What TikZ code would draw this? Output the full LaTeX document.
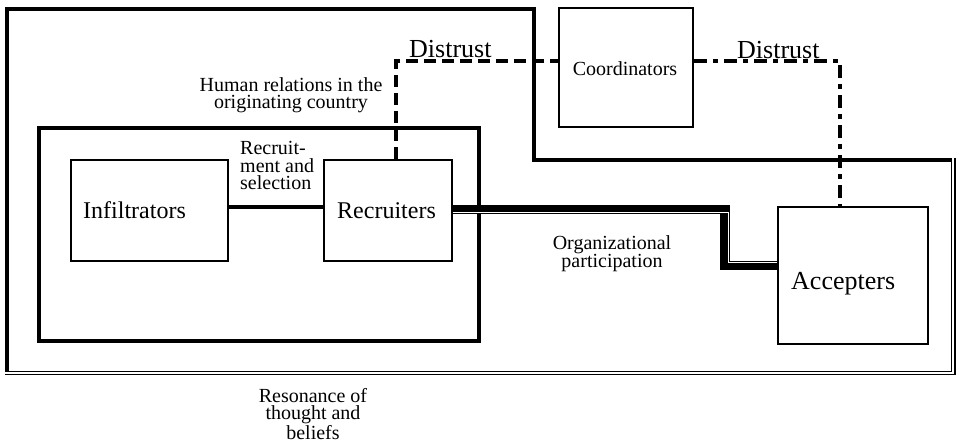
\documentclass[tikz,border=0pt]{standalone}
\usepackage{fontspec}
\setmainfont{Liberation Serif}
\begin{document}
\begin{tikzpicture}[x=1pt,y=-1pt,
  frame/.style={line width=4pt, line join=miter},
  dframe/.style={double, line width=1.3pt, double distance=1.8pt, line join=miter},
  box/.style={draw, line width=2pt, inner sep=0pt},
  lab20/.style={font=\fontsize{20}{17.5}\selectfont, inner sep=0pt},
  lab24/.style={font=\fontsize{24}{28}\selectfont, inner sep=0pt},
  lab26/.style={font=\fontsize{26}{30}\selectfont, inner sep=0pt},
  link/.style={line width=3.5pt},
  distA/.style={line width=3.5pt, dash pattern=on 12pt off 6pt},
  distB/.style={line width=3.5pt, dash pattern=on 13pt off 6pt on 5pt off 6pt},
  orgline/.style={line width=9.5pt, line join=miter},
  orgwhite/.style={draw=white, line width=1pt, line join=miter}]
\useasboundingbox (0,0) rectangle (958,443);
% outer frame
\draw[frame] (7,371) -- (7,9.5) -- (534,9.5) -- (534,160) -- (953.3,160);
\draw[dframe] (5,372.7) -- (953.3,372.7) -- (953.3,158);
% inner frame
\draw[frame] (39,128) rectangle (479,341);
% boxes
\node[box, minimum width=157pt, minimum height=101pt] (inf) at (149.5,210.5) {};
\node[box, minimum width=128pt, minimum height=101pt] (rec) at (387.5,210.5) {};
\node[box, minimum width=134pt, minimum height=119pt] (coord) at (626,68) {};
\node[box, minimum width=150pt, minimum height=137pt] (acc) at (853,275.5) {};
% box texts
\node[lab24, anchor=base west] (tinf) at (83,219) {Infiltrators};
\node[lab24, anchor=base west] (trec) at (337,219) {Recruiters};
\node[lab20, anchor=base] (tcoord) at (625,76) {Coordinators};
\node[lab26, anchor=base west] (tacc) at (791,290) {Accepters};
% connector labels
\node[lab26, anchor=base west] (tdis1) at (409,58) {Distrust};
\node[lab26, anchor=base west] (tdis2) at (737,59) {Distrust};
\node[lab20, align=center, anchor=north] (thum) at (291,77) {Human relations in the\\originating country};
\node[lab20, align=left, anchor=north west] (trs) at (240,141.5) {Recruit-\\ment and\\selection};
\node[lab20, align=center, anchor=north] (torg) at (612,235) {Organizational\\participation};
\node[lab20, align=center, anchor=north] (tres) at (313,388) {Resonance of\\thought and\\beliefs};
% connectors
\coordinate (l1) at (0,207);
\draw[link] (inf.east |- l1) -- (rec.west |- l1);
\coordinate (d1) at (396,61);
\draw[distA] (rec.north -| d1) -- (d1) -- (d1 -| coord.west);
\coordinate (d2) at (840,61);
\draw[distB] (d2 -| coord.east) -- (d2) -- (d2 |- acc.north);
\coordinate (o1) at (725,209.5);
\coordinate (o2) at (725,265.5);
\draw[orgline] (rec.east |- o1) -- (o1) -- (o2) -- (o2 -| acc.west);
\coordinate (w1) at (728,212.3);
\coordinate (w2) at (728,262.7);
\draw[orgwhite] (rec.east |- w1) -- (w1) -- (w2) -- (w2 -| acc.west);
\end{tikzpicture}
\end{document}
